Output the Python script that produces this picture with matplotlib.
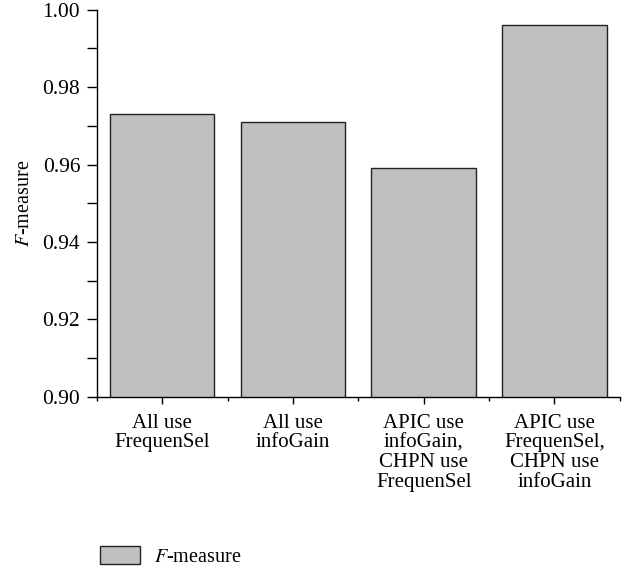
import numpy as np
from matplotlib import pyplot as plt
from matplotlib.ticker import MultipleLocator, FixedLocator

plt.rcParams['font.family'] = ['Liberation Serif', 'DejaVu Serif']
plt.rcParams['mathtext.fontset'] = 'stix'

categories = ["All use\nFrequenSel", "All use\ninfoGain",
              "APIC use\ninfoGain,\nCHPN use\nFrequenSel",
              "APIC use\nFrequenSel,\nCHPN use\ninfoGain"]
f_measure = [0.973, 0.971, 0.959, 0.996]


def graph_fmeasure():
    fig = plt.figure(figsize=(6.37, 5.71), dpi=100)
    ax = fig.add_axes([0.152, 0.305, 0.821, 0.678])
    x = np.arange(len(categories))
    ax.bar(x, f_measure, width=0.8, color="#c0c0c0", edgecolor="#222222",
           linewidth=1.0, label="$F$-measure")
    ax.set_xlim(-0.5, len(categories) - 0.5)
    ax.set_ylim(0.90, 1.00)
    ax.yaxis.set_major_locator(MultipleLocator(0.02))
    ax.yaxis.set_minor_locator(MultipleLocator(0.01))
    ax.set_yticklabels([f"{v:.2f}" for v in ax.get_yticks()])
    ax.set_xticks(x)
    ax.set_xticklabels(categories, fontsize=15, linespacing=1.05)
    ax.xaxis.set_minor_locator(FixedLocator(np.arange(-0.5, len(categories), 1.0)))
    ax.tick_params(axis="y", which="major", length=7, width=1, labelsize=15.5, pad=5)
    ax.tick_params(axis="y", which="minor", length=7, width=1)
    ax.tick_params(axis="x", which="major", length=5, width=1, pad=7)
    ax.tick_params(axis="x", which="minor", length=3, width=1)
    for side in ["top", "right"]:
        ax.spines[side].set_visible(False)
    for side in ["left", "bottom"]:
        ax.spines[side].set_linewidth(1)
    ax.set_ylabel("$F$-measure", fontsize=14.5, labelpad=6)
    fig.legend(loc="lower left", bbox_to_anchor=(0.128, -0.024), frameon=False,
               fontsize=14.5, handlelength=2.0, handleheight=1.0, handletextpad=0.7)
    fig.savefig("out.png", dpi=100)


graph_fmeasure()
